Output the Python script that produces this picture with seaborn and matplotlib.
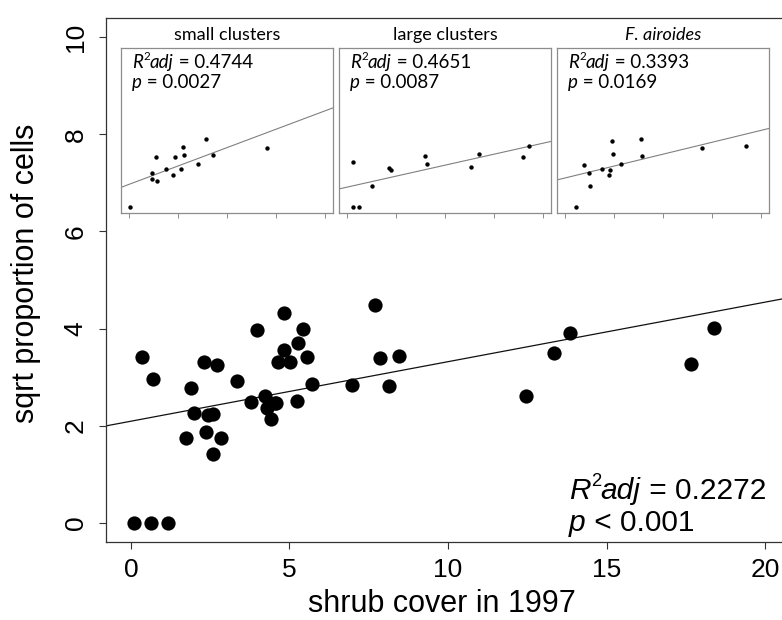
import matplotlib
matplotlib.use("Agg")
import matplotlib.pyplot as plt
import seaborn as sns
import pandas as pd

# ---------------- data ----------------
shrub_cover = [0.10, 0.62, 1.18, 0.34, 0.68, 1.73, 1.89, 2.00, 2.31, 2.36, 2.44,
               2.60, 2.60, 2.70, 2.84, 3.33, 3.78, 3.96, 4.23, 4.28, 4.41, 4.54,
               4.56, 4.65, 4.83, 4.83, 5.02, 5.23, 5.28, 5.42, 5.54, 5.70, 6.96,
               7.70, 7.85, 8.13, 8.44, 12.45, 13.34, 13.86, 17.67, 18.38]
sqrt_prop = [0.00, 0.00, 0.00, 3.42, 2.96, 1.74, 2.77, 2.26, 3.32, 1.88, 2.22,
             2.24, 1.41, 3.26, 1.74, 2.93, 2.48, 3.97, 2.61, 2.36, 2.14, 2.46,
             2.46, 3.32, 3.55, 4.33, 3.32, 2.51, 3.71, 3.99, 3.41, 2.87, 2.83,
             4.49, 3.39, 2.82, 3.43, 2.62, 3.49, 3.90, 3.27, 4.01]
main_intercept = 2.094
main_slope = 0.1225
main_r2 = "0.2272"
main_p = "0.001"

inset_titles = ["small clusters", "large clusters", "F. airoides"]
inset_title_italic = [False, False, True]
inset_r2 = ["0.4744", "0.4651", "0.3393"]
inset_p = ["0.0027", "0.0087", "0.0169"]
inset_intercepts = [1.47, 1.29, 1.89]
inset_slopes = [0.241, 0.144, 0.156]

small_x = [0.12, 2.40, 2.40, 2.74, 2.91, 3.83, 4.48, 4.74, 5.30, 5.50, 5.60, 7.03, 7.85, 8.56, 14.03]
small_y = [0.00, 2.20, 1.85, 3.25, 1.70, 2.46, 2.11, 3.29, 2.46, 3.94, 3.38, 2.79, 4.44, 3.40, 3.85]
large_x = [0.66, 0.66, 1.20, 2.60, 4.30, 4.45, 7.95, 8.20, 12.60, 13.50, 17.90, 18.60]
large_y = [2.92, 0.00, 0.00, 1.39, 2.57, 2.42, 3.35, 2.79, 2.59, 3.46, 3.25, 3.99]
fair_x = [1.17, 1.90, 2.45, 2.60, 3.80, 4.45, 4.60, 4.83, 4.86, 5.74, 7.78, 7.90, 14.00, 18.50]
fair_y = [0.00, 2.74, 2.20, 1.39, 2.46, 2.11, 2.44, 4.29, 3.48, 2.83, 4.42, 3.35, 3.85, 3.97]
inset_x = [small_x, large_x, fair_x]
inset_y = [small_y, large_y, fair_y]

x_ticks = [0, 5, 10, 15, 20]
y_ticks = [0, 2, 4, 6, 8, 10]

# ---------------- style ----------------
sns.set_style("white")
MAIN_FONT = "Liberation Sans"
INSET_FONT = "Lato"
plt.rcParams["font.family"] = [MAIN_FONT, "DejaVu Sans"]
plt.rcParams["text.color"] = "black"
plt.rcParams["axes.labelcolor"] = "black"
plt.rcParams["xtick.color"] = "black"
plt.rcParams["ytick.color"] = "black"

W, H = 782, 620
fig = plt.figure(figsize=(W / 100, H / 100), dpi=100)


def fx(px):
    return px / W


def fy(py):
    return 1 - py / H


# main axes (right side intentionally extends past the figure edge)
ax_l, ax_r, ax_t, ax_b = 105.6, 790.4, 17.6, 542.4
ax = fig.add_axes([fx(ax_l), fy(ax_b), (ax_r - ax_l) / W, (ax_b - ax_t) / H])

df = pd.DataFrame({"shrub": shrub_cover, "sqrtp": sqrt_prop})
sns.scatterplot(data=df, x="shrub", y="sqrtp", ax=ax, color="black", s=105,
                linewidth=0, zorder=3)
ax.axline((0, main_intercept), slope=main_slope, color="#111111", lw=0.9, zorder=2)
ax.set_xlim(-0.8, 20.8)
ax.set_ylim(-0.4, 10.4)
ax.set_xticks(x_ticks)
ax.set_yticks(y_ticks)
ax.tick_params(axis="both", direction="out", length=5, width=0.8, color="#333333",
               labelcolor="black", labelsize=19, bottom=True, left=True)
ax.tick_params(axis="x", pad=6)
ax.tick_params(axis="y", pad=8, labelrotation=90)
for lab in ax.get_yticklabels():
    lab.set_verticalalignment("center")
for sp in ax.spines.values():
    sp.set_visible(True)
    sp.set_color("#333333")
    sp.set_linewidth(0.9)
ax.set_xlabel("shrub cover in 1997", fontsize=22, color="black")
ax.set_ylabel("sqrt proportion of cells", fontsize=22, color="black")
ax.xaxis.set_label_coords((441.5 - ax_l) / (ax_r - ax_l), -0.089)
ax.yaxis.set_label_coords((41.4 - ax_l) / (ax_r - ax_l), 0.512)


def rich(container_ax, px, py, pieces, family, size):
    """pieces: list of (text, italic, superscript) drawn on one baseline."""
    base = None
    prev = None
    for s, ital, sup in pieces:
        style = "italic" if ital else "normal"
        if prev is None:
            t = container_ax.text(fx(px), fy(py), s, transform=fig.transFigure,
                                  fontfamily=family, fontsize=size, fontstyle=style,
                                  ha="left", va="baseline", zorder=10, color="black")
            base = t
        elif sup:
            t = container_ax.annotate(s, xy=(1.0, 0.52), xycoords=prev,
                                      fontfamily=family, fontsize=size * 0.62,
                                      fontstyle=style, ha="left", va="bottom",
                                      zorder=10, color="black")
        else:
            t = container_ax.annotate(s, xy=(1.0, 0.0), xycoords=(prev, base),
                                      fontfamily=family, fontsize=size,
                                      fontstyle=style, ha="left", va="bottom",
                                      zorder=10, color="black")
        prev = t


rich(ax, 569, 499, [("R", True, False), ("2", False, True), ("adj", True, False),
                    (" = " + main_r2, False, False)], MAIN_FONT, 21.5)
rich(ax, 569, 531, [("p", True, False), (" < " + main_p, False, False)], MAIN_FONT, 21.5)

# ---------------- insets ----------------
inset_lefts = [121, 339, 557]
inset_w = 212
in_t, in_b = 48, 213
for i in range(3):
    L = inset_lefts[i]
    iax = fig.add_axes([fx(L), fy(in_b), inset_w / W, (in_b - in_t) / H])
    iax.set_facecolor("white")
    idf = pd.DataFrame({"x": inset_x[i], "y": inset_y[i]})
    sns.scatterplot(data=idf, x="x", y="y", ax=iax, color="black", s=10,
                    linewidth=0, zorder=3)
    iax.axline((0, inset_intercepts[i]), slope=inset_slopes[i], color="#808080",
               lw=0.8, zorder=2)
    iax.set_xlim(-0.8, 20.8)
    iax.set_ylim(-0.4, 10.4)
    iax.set_xticks(x_ticks)
    iax.set_yticks([])
    iax.tick_params(axis="x", direction="out", length=3.6, width=0.7,
                    color="#8c8c8c", labelbottom=False, bottom=True)
    iax.set_xlabel("")
    iax.set_ylabel("")
    for sp in iax.spines.values():
        sp.set_visible(True)
        sp.set_color("#8c8c8c")
        sp.set_linewidth(0.9)
    fig.text(fx(L + inset_w / 2), fy(40), inset_titles[i], ha="center",
             va="baseline", fontfamily=INSET_FONT, fontsize=13, color="black",
             fontstyle="italic" if inset_title_italic[i] else "normal")
    rich(iax, L + 11, 68, [("R", True, False), ("2", False, True), ("adj", True, False),
                           (" = " + inset_r2[i], False, False)], INSET_FONT, 13.5)
    rich(iax, L + 11, 88, [("p", True, False), (" = " + inset_p[i], False, False)],
         INSET_FONT, 13.5)

fig.savefig("out.png", dpi=100)
